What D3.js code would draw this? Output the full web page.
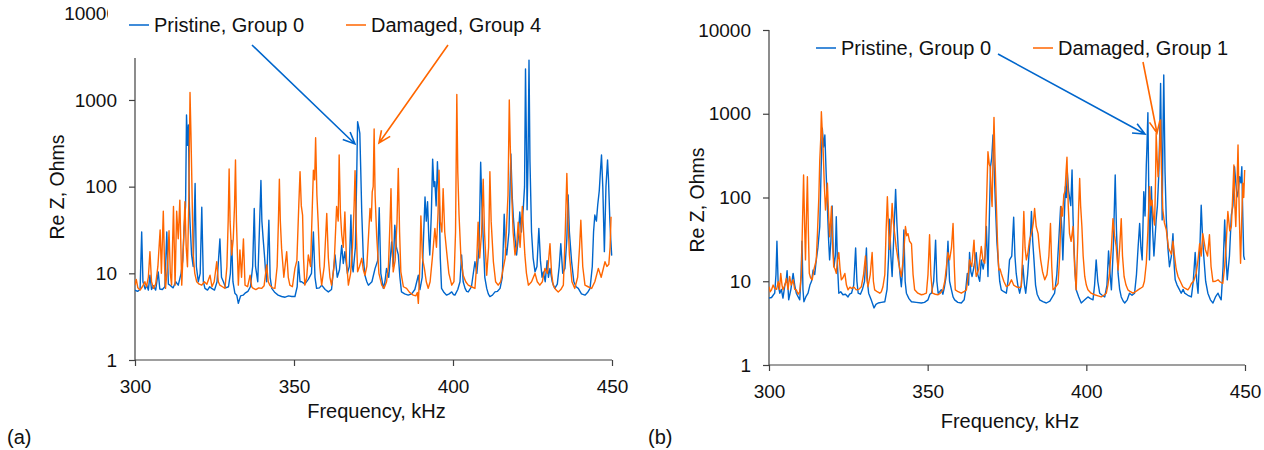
<!DOCTYPE html>
<html>
<head>
<meta charset="utf-8">
<script src="https://cdn.jsdelivr.net/npm/d3@7"></script>
<style>
  html, body { margin: 0; padding: 0; background: #fff; }
  svg { display: block; font-family: Arial, "Liberation Sans", sans-serif; }
</style>
</head>
<body>
<svg id="chart" width="1264" height="450"></svg>
<script>
// ---------- data (frequency kHz, Re Z Ohms) ----------
const xTicks = [300, 350, 400, 450];
const yTicks = [1, 10, 100, 1000, 10000];

const pristineA = [[300.0,6.4],[300.8,6.2],[301.6,6.5],[302.1,30],[302.5,8],[303.2,6.6],[303.7,7.3],[304.2,6.4],[304.7,9.5],[305.2,6.5],[305.8,7.2],[306.5,6.4],[307.3,10.4],[307.8,6.6],[308.6,6.5],[309.4,7],[310.0,30],[310.5,7.5],[311.0,7.3],[312.0,6.8],[312.8,8],[313.6,7.3],[314.5,10],[315.0,14],[315.5,36],[315.9,60],[316.2,670],[316.5,300],[316.8,514],[317.1,60],[317.3,39],[317.8,16.3],[318.3,12],[318.9,109],[319.3,12],[319.9,8.0],[320.5,10],[321.0,58],[321.5,8],[322.0,6.7],[322.8,6.4],[323.5,7],[324.1,6.7],[325.0,6.4],[325.8,8],[326.7,25],[327.2,9],[327.8,8.0],[328.5,6.8],[329.4,7],[330.0,10],[330.4,24],[330.8,8],[331.4,5.9],[332.0,5.6],[332.5,4.5],[333.2,5.5],[334.0,5.6],[334.6,5.9],[335.5,6.2],[336.3,7],[337.0,12],[337.5,56],[337.9,12],[338.6,8.0],[339.1,30],[339.6,118],[339.9,40],[340.3,25],[340.7,16.3],[341.1,10],[341.4,8.0],[342.1,41],[342.5,9],[343.0,6.7],[344.0,6.0],[345.0,5.6],[346.1,5.4],[347.2,5.3],[348.3,5.5],[349.3,5.4],[350.3,5.4],[351.0,7],[351.4,13.6],[351.9,8],[352.4,8.0],[353.4,7.5],[354.5,8.5],[355.5,10],[356.1,30],[356.6,9],[357.1,6.7],[358.0,6.8],[358.7,7.3],[359.8,6.5],[360.8,6.1],[361.8,6.5],[362.9,16.3],[363.6,9],[364.3,11],[365.0,21],[365.5,13],[366.0,17.8],[366.8,10],[367.4,12],[367.9,47],[368.3,12],[368.6,10.4],[369.3,20],[369.7,120],[370.0,561],[370.4,480],[370.7,411],[371.0,150],[371.3,51],[371.8,15],[372.3,9.5],[372.9,8],[373.4,7.3],[374.5,8],[375.5,11.4],[376.3,14],[376.8,57],[377.3,10],[378.1,6.7],[378.6,8],[379.1,11.4],[379.8,9],[380.7,23],[381.2,12],[381.7,36],[382.2,20],[382.8,16.3],[383.3,9],[383.8,6.1],[384.8,5.8],[385.9,5.6],[387.0,5.8],[388.0,6.5],[389.1,9.5],[389.6,6.5],[390.3,9],[390.8,30],[391.2,76],[391.6,40],[392.0,67],[392.4,25],[392.7,16.3],[393.2,50],[393.6,208],[394.0,100],[394.3,114],[394.7,60],[395.1,194],[395.4,100],[395.7,61],[396.0,15],[396.4,6.7],[397.2,6.0],[398.0,5.6],[398.8,5.8],[399.6,6.1],[400.1,5.7],[400.6,5.6],[401.5,6.5],[402.2,8],[402.7,16.3],[403.2,8],[403.8,6.7],[404.3,6.2],[404.8,6.1],[405.8,7],[406.9,13.6],[407.5,10],[408.2,20],[408.7,191],[409.1,60],[409.5,25],[410.0,9],[410.6,6.7],[411.1,5.8],[411.6,5.4],[412.4,5.6],[413.2,6.1],[414.0,6.2],[414.8,6.7],[415.5,9],[416.1,48],[416.5,20],[416.9,16.3],[417.6,30],[418.2,238],[418.6,80],[419.0,43],[419.5,25],[420.0,16.3],[420.5,25],[421.0,51],[421.5,30],[422.1,56],[422.5,100],[422.8,2274],[423.1,300],[423.3,54],[423.6,200],[423.9,2882],[424.2,200],[424.7,30],[425.2,15],[425.8,10.4],[426.4,12],[427.0,33],[427.5,14],[428.0,9],[428.4,10.4],[429.0,8],[429.6,14],[430.0,9],[430.5,11.4],[431.2,8],[432.0,6.7],[432.8,7.5],[433.4,12],[433.9,22],[434.5,10],[435.2,11.4],[435.8,25],[436.2,80],[436.6,30],[437.3,13.6],[438.0,8],[438.7,7],[439.4,6.7],[440.4,5.8],[441.5,5.6],[442.3,6],[443.1,6.7],[443.8,12],[444.2,30],[444.6,47],[445.1,40],[445.5,61],[446.0,90],[446.4,160],[446.7,232],[447.1,100],[447.6,17.8],[448.1,100],[448.6,203],[448.9,120],[449.3,43],[449.6,25],[449.9,16]];

const damagedA = [[300.0,7.3],[300.4,8.5],[300.9,6.8],[301.6,6.4],[302.3,7],[303.1,8.0],[303.6,7],[304.2,9],[304.7,17.8],[305.2,8],[305.8,6.7],[306.5,7.5],[307.2,12],[307.9,31.6],[308.3,10],[308.9,52],[309.3,12],[309.6,6.7],[310.2,12],[310.7,31],[311.1,10],[311.5,7.3],[312.1,59],[312.6,7.3],[313.1,52],[313.6,25],[314.1,70],[314.7,7.3],[315.2,20],[315.7,67],[316.1,20],[316.5,11.9],[316.9,60],[317.3,1222],[317.6,400],[317.8,165],[318.1,40],[318.3,16.3],[318.8,10],[319.4,8.0],[320.2,7.5],[321.0,7.3],[321.8,8],[322.6,7.5],[323.6,9.5],[324.2,7],[324.9,8],[325.7,13.6],[326.2,8],[326.7,7.3],[327.5,7],[328.3,6.7],[328.9,12],[329.3,40],[329.6,160],[329.9,40],[330.4,16.3],[330.9,25],[331.3,60],[331.6,203],[331.9,40],[332.5,7.3],[333.0,18.6],[333.5,9],[334.1,25],[334.6,7.3],[335.4,7],[336.2,9.5],[336.7,7],[337.2,6.7],[338.0,6.5],[338.9,6.8],[339.8,6.7],[340.6,7.2],[341.4,12.5],[341.9,8],[342.4,7.3],[343.2,6.8],[344.0,6.7],[344.7,12],[345.1,40],[345.4,122],[345.7,40],[346.1,19.4],[346.8,9],[347.7,17.8],[348.2,9],[348.7,7.3],[349.5,7],[350.3,11.4],[350.9,14],[351.5,60],[351.9,149],[352.3,60],[352.7,47],[353.0,15],[353.4,7.3],[354.0,9],[354.5,16.3],[355.2,12],[355.7,50],[356.1,155],[356.5,120],[356.8,367],[357.2,80],[357.6,39],[358.1,12],[358.7,7.3],[359.5,12],[360.3,49],[360.8,15],[361.3,9],[361.8,7.3],[362.6,12],[363.4,59],[363.9,40],[364.2,232],[364.6,50],[365.0,28],[365.5,20],[366.0,51],[366.5,14],[367.1,7.3],[367.8,10],[368.4,20],[368.9,60],[369.2,153],[369.6,30],[370.0,10.4],[370.6,12],[371.3,14.9],[371.8,11],[372.3,9.5],[372.9,12],[373.5,30],[373.9,56],[374.3,40],[374.6,87],[374.9,100],[375.2,462],[375.5,80],[376.0,27],[376.7,10],[377.6,7.3],[378.3,6.7],[379.1,8.0],[379.7,12],[380.2,40],[380.5,95],[380.8,25],[381.2,10.4],[381.8,14],[382.4,40],[382.8,162],[383.2,30],[383.6,10.4],[384.4,7],[385.4,6.7],[386.4,6.0],[387.5,5.6],[388.3,5.5],[388.8,6],[389.1,4.5],[389.5,10],[389.9,46],[390.4,15],[391.0,11.4],[391.6,8],[392.2,6.7],[392.8,8],[393.5,15],[394.3,33],[394.8,20],[395.3,50],[395.6,155],[396.0,40],[396.5,30],[396.9,95],[397.4,30],[398.0,17.8],[398.7,10],[399.6,7.3],[400.3,8],[400.8,30],[401.2,1159],[401.5,150],[401.9,47],[402.5,15],[403.2,9.5],[404.0,8],[404.8,7.3],[405.8,7],[406.9,6.7],[407.4,12],[407.9,39],[408.4,15],[409.0,30],[409.5,122],[409.9,30],[410.6,9.5],[411.2,20],[411.6,149],[412.0,40],[412.7,13.6],[413.4,8],[414.2,7.3],[415.0,8],[415.8,11.4],[416.4,15],[416.9,39],[417.3,80],[417.7,998],[418.0,300],[418.4,95],[418.9,30],[419.5,16.3],[420.0,20],[420.5,39],[421.1,20],[421.8,59],[422.2,30],[422.6,16.3],[423.1,10],[423.7,7.3],[424.7,8],[425.8,10],[426.5,8],[427.3,7.3],[428.1,8],[428.9,11.4],[429.7,10],[430.5,22],[431.0,10],[431.5,7.3],[432.3,6.5],[433.1,6.1],[433.9,6.5],[434.7,7.3],[435.3,30],[435.8,142],[436.2,40],[436.6,16.3],[437.4,8],[438.3,6.7],[439.2,9],[439.8,20],[440.2,41],[440.8,12],[441.5,7.3],[442.5,7],[443.6,6.7],[444.6,8],[445.7,11.4],[446.6,9],[447.8,13.6],[448.4,12],[449.0,12.7],[449.4,20],[449.7,45]];

const pristineB = [[300.0,6.3],[300.8,6.4],[301.3,6.8],[301.8,7.2],[302.2,12],[302.5,30],[302.9,9],[303.4,7.2],[303.9,8],[304.4,6.3],[305.0,9],[305.4,10],[305.7,13.4],[306.2,6.0],[306.9,8],[307.6,12.4],[308.1,9],[308.6,7.2],[309.2,6.5],[309.7,6.0],[310.1,12],[310.4,30],[310.7,8],[311.0,5.7],[311.6,6.5],[312.3,7.2],[312.9,9],[313.4,10],[313.9,13.6],[314.4,12],[314.9,18],[315.4,25],[316.0,45],[316.4,200],[316.8,670],[317.2,400],[317.6,558],[318.0,200],[318.4,78],[318.8,30],[319.1,18],[319.5,30],[319.9,79],[320.2,25],[320.5,14.9],[320.9,20],[321.2,59],[321.6,15],[322.0,7.2],[322.6,7.5],[323.3,6.9],[324.1,7],[324.9,6.5],[325.4,7],[326.0,7.2],[326.7,9],[327.3,25],[327.7,10],[328.1,7.2],[328.8,7],[329.4,7.9],[330.1,10],[330.7,25],[331.0,10],[331.4,7.2],[332.2,6],[333.1,4.8],[333.7,5.3],[334.4,5.5],[335.4,5.6],[336.5,5.7],[337.2,8],[337.7,20],[338.0,55],[338.4,20],[338.8,11.4],[339.4,40],[339.9,125],[340.3,50],[340.9,18],[341.3,12],[341.7,8.6],[342.2,15],[342.5,41],[342.9,10],[343.3,7.2],[344.1,6.2],[344.9,5.7],[346.4,5.6],[348.0,5.5],[349.0,5.6],[350.1,6.0],[350.7,7],[351.2,7.2],[351.9,10],[352.5,31],[352.9,10],[353.3,7.2],[353.8,7.5],[354.3,7.9],[354.8,7],[355.3,8.6],[355.9,12],[356.4,30],[356.9,10],[357.5,7.9],[358.0,6.5],[358.5,6.0],[359.5,5.6],[360.6,5.5],[361.5,6],[362.0,8],[362.5,12.4],[362.9,9],[363.2,22],[363.6,13],[364.0,11.4],[364.6,15],[365.3,22],[365.8,12],[366.4,10],[366.9,18],[367.5,14],[368.1,20],[368.5,45],[369.0,11.4],[369.4,50],[369.8,233],[370.2,300],[370.6,558],[371.0,200],[371.3,93],[371.8,30],[372.2,18],[372.7,10],[373.2,7.9],[374.0,7.5],[374.8,7.2],[375.3,10],[375.8,18],[376.5,20],[377.1,58],[377.5,20],[377.9,12.4],[378.4,9],[379.0,7.2],[379.5,9],[380.0,15.6],[380.5,9],[380.9,7.2],[381.5,12],[382.1,26],[382.4,35],[382.7,68],[383.1,30],[383.5,18],[384.0,9],[384.5,7],[385.3,6.0],[386.3,5.7],[387.4,5.5],[388.5,5.8],[389.3,6.5],[390.0,7.2],[390.7,12],[391.3,30],[391.9,78],[392.3,40],[392.6,18],[393.0,50],[393.4,135],[393.7,100],[394.0,204],[394.4,120],[394.7,102],[395.1,80],[395.5,213],[395.8,60],[396.1,26],[396.5,12],[396.8,7.9],[397.6,6.5],[398.4,5.5],[399.5,6],[400.5,6.5],[401.3,6.2],[402.1,6.0],[402.6,9],[403.1,18],[403.6,10],[404.2,7.2],[405.0,6.8],[405.8,6.5],[406.5,9],[407.0,23],[407.5,12],[407.9,7.9],[408.5,25],[409.1,186],[409.5,40],[410.0,12.4],[410.5,8],[411.0,6.5],[411.6,5.8],[412.1,5.5],[412.9,6],[413.6,7.2],[414.4,6.8],[415.2,7.2],[415.8,12],[416.3,25],[416.8,49],[417.2,25],[417.6,18],[418.1,117],[418.5,60],[418.9,245],[419.1,400],[419.4,1031],[419.7,100],[419.9,18],[420.2,50],[420.5,135],[420.9,40],[421.3,20],[421.7,35],[422.0,54],[422.4,80],[422.8,177],[423.1,500],[423.4,2307],[423.7,300],[423.9,54],[424.2,800],[424.4,2904],[424.8,200],[425.2,54],[425.7,25],[426.2,14.9],[426.8,20],[427.3,37],[427.7,15],[428.0,10.4],[428.6,9],[429.3,8],[429.9,7.2],[430.5,8],[431.0,7.2],[432.0,6.8],[433.1,6.5],[433.7,10],[434.3,22],[434.8,10],[435.2,7.2],[435.7,20],[436.2,81],[436.6,35],[437.0,20],[437.6,10],[438.3,7.2],[439.1,6],[439.9,5.5],[440.7,6.5],[441.5,7.2],[442.0,6.5],[442.5,6.0],[443.1,15],[443.6,54],[444.0,20],[444.4,10.4],[445.1,20],[445.7,62],[446.2,80],[446.7,233],[447.1,150],[447.5,102],[447.9,120],[448.3,177],[448.7,150],[449.0,233],[449.3,60],[449.6,20],[449.9,18]];

const damagedB = [[300.0,8.6],[300.4,7.5],[300.8,7.9],[301.3,9],[301.8,8.2],[302.4,8],[302.9,9.9],[303.3,8],[303.7,12.4],[304.1,9],[304.4,7.9],[305.0,9],[305.5,10.8],[306.0,8],[306.5,11.4],[307.0,9],[307.6,10.4],[308.1,8],[308.6,7.9],[309.2,7],[309.7,7.5],[310.2,12],[310.6,60],[310.9,186],[311.2,50],[311.5,18],[311.8,60],[312.1,177],[312.4,40],[312.7,12.4],[313.1,11],[313.6,10.4],[314.2,14],[314.9,18],[315.3,40],[315.7,100],[316.0,281],[316.3,500],[316.5,1059],[316.8,600],[317.1,337],[317.4,150],[317.8,71],[318.1,100],[318.4,148],[318.8,60],[319.1,34],[319.4,50],[319.7,78],[320.0,30],[320.4,14.9],[320.8,14],[321.2,12.4],[321.6,18],[322.0,22],[322.4,14],[322.8,10.4],[323.3,11],[323.9,12.4],[324.4,9],[324.9,7.9],[325.5,8.5],[326.0,8.2],[326.8,8.5],[327.5,7.9],[328.3,8],[329.1,8.6],[329.8,12],[330.4,20],[330.8,11],[331.2,8.6],[331.9,12],[332.5,22],[332.9,10],[333.3,7.9],[334.1,7.5],[334.9,7.2],[335.4,7.5],[335.9,8.6],[336.5,12],[336.9,40],[337.3,102],[337.7,40],[338.0,24],[338.4,40],[338.8,85],[339.2,50],[339.6,37],[340.1,25],[340.7,18],[341.2,14],[341.7,11.4],[342.4,20],[343.0,45],[343.4,35],[343.8,37],[344.3,30],[344.9,28],[345.4,12],[345.9,7.9],[346.9,7.2],[348.0,6.9],[348.8,7],[349.6,7.2],[350.1,12],[350.6,36],[351.0,12],[351.5,7.2],[352.4,7],[353.3,6.9],[354.0,7.2],[354.8,7.9],[355.4,10],[355.9,14.9],[356.4,22],[356.9,18],[357.5,25],[358.0,49],[358.4,15],[358.7,7.9],[359.6,7.5],[360.6,7.2],[361.4,7.5],[362.2,7.9],[362.7,11],[363.2,18],[363.9,15],[364.6,31],[365.0,15],[365.3,11.4],[366.1,14],[366.9,26],[367.4,18],[368.0,16.4],[368.6,100],[369.0,352],[369.4,250],[369.7,233],[370.0,120],[370.3,78],[370.6,300],[370.9,906],[371.2,300],[371.6,93],[372.0,30],[372.4,13.6],[372.8,14],[373.2,12.4],[374.0,10],[374.8,8.6],[375.6,9],[376.4,10.4],[377.1,9],[377.9,8.6],[378.7,8.4],[379.5,8.6],[379.9,20],[380.3,68],[380.7,25],[381.1,18],[381.6,22],[382.1,31],[382.9,40],[383.3,50],[383.7,74],[384.2,45],[384.8,37],[385.2,25],[385.6,18],[386.2,13],[386.9,10.4],[387.6,12],[388.2,20],[388.7,49],[389.1,15],[389.5,7.9],[390.3,8.5],[391.1,9.4],[391.6,20],[392.1,78],[392.5,60],[392.9,107],[393.3,120],[393.6,200],[393.9,302],[394.3,80],[394.7,37],[395.2,30],[395.8,45],[396.3,15],[396.8,7.9],[397.3,30],[397.6,80],[397.9,169],[398.2,80],[398.6,45],[399.0,20],[399.5,11.4],[400.0,9],[400.5,7.9],[401.5,7.2],[402.6,6.9],[403.7,6.7],[404.7,6.5],[405.5,6.8],[406.3,7.2],[406.8,9],[407.3,12.4],[407.9,25],[408.4,56],[408.9,35],[409.4,26],[410.0,13.6],[410.5,25],[411.0,56],[411.4,20],[411.9,11.4],[412.5,9],[413.1,7.9],[413.9,7.5],[414.7,7.2],[415.5,7.5],[416.3,7.9],[417.0,8.2],[417.8,8.6],[418.3,10],[418.9,16.4],[419.4,40],[419.9,135],[420.3,80],[420.7,93],[421.1,60],[421.5,47],[421.8,150],[422.0,584],[422.3,300],[422.6,177],[423.0,300],[423.4,843],[423.7,200],[424.1,71],[424.6,50],[425.2,41],[425.9,25],[426.8,21],[427.3,30],[427.8,20],[428.3,14],[428.9,11.4],[429.6,10],[430.4,8.6],[431.2,8.2],[432.0,7.9],[432.6,8.5],[433.1,9.4],[433.8,10],[434.6,12.4],[435.2,18],[435.7,28],[436.2,20],[436.7,37],[437.1,30],[437.5,24],[438.2,20],[438.8,36],[439.3,15],[439.9,9.9],[440.7,10],[441.5,10.4],[442.2,9.8],[443.0,9.4],[443.6,15],[444.1,30],[444.6,68],[445.2,40],[445.7,45],[446.1,100],[446.5,245],[446.8,80],[447.1,45],[447.5,150],[447.8,424],[448.2,60],[448.6,16.4],[449.0,60],[449.3,148],[449.6,100],[449.9,213]];

const seriesNamesA = ["Pristine, Group 0", "Damaged, Group 4"];
const seriesNamesB = ["Pristine, Group 0", "Damaged, Group 1"];
const colors = ["#0066CC", "#FF6600"];

// ---------- drawing ----------
const svg = d3.select("#chart");
const FONT = 19;

function panel(opts) {
  const g = svg.append("g");
  const x = d3.scaleLinear().domain([300, 450]).range([opts.x0, opts.x1]);
  const y = d3.scaleLog().domain([1, 10000]).range([opts.y0, opts.y1]);

  const clipId = "clip" + opts.id;
  svg.append("clipPath").attr("id", clipId).append("rect")
    .attr("x", opts.x0).attr("y", opts.y1 - 5)
    .attr("width", opts.x1 - opts.x0 + 2).attr("height", opts.y0 - opts.y1 + 5);

  const xAxis = d3.axisBottom(x).tickValues(xTicks).tickSize(6).tickPadding(14).tickFormat(d3.format("d"));
  const yAxis = d3.axisLeft(y).tickValues(yTicks).tickSize(6).tickPadding(12).tickFormat(d3.format("d"));
  const gx = g.append("g").attr("transform", `translate(0,${opts.y0})`).call(xAxis);
  const gy = g.append("g").attr("transform", `translate(${opts.x0},0)`).call(yAxis);
  [gx, gy].forEach(a => {
    a.select(".domain").attr("stroke", "#404040").attr("stroke-width", 1.2);
    a.selectAll(".tick line").attr("stroke", "#404040").attr("stroke-width", 1.2);
    a.selectAll(".tick text").attr("fill", "#111").style("font-size", FONT + "px")
      .style("font-family", "Arial, 'Liberation Sans', sans-serif");
  });
  gx.select(".domain").attr("d", `M${opts.x0},0H${opts.x1}`);
  gy.select(".domain").attr("d", `M0,${opts.y0}V${opts.y1}`);

  const line = d3.line().x(d => x(d[0])).y(d => y(d[1]));
  const dg = g.append("g").attr("clip-path", `url(#${clipId})`);
  opts.data.forEach((s, i) => {
    dg.append("path").datum(s).attr("d", line)
      .attr("fill", "none").attr("stroke", colors[i]).attr("stroke-width", 1.4)
      .attr("stroke-linejoin", "round");
  });

  g.append("text").attr("x", (opts.x0 + opts.x1) / 2 + 3).attr("y", opts.xTitleY)
    .attr("text-anchor", "middle").style("font-size", "20px").attr("fill", "#111")
    .text("Frequency, kHz");
  g.append("text").attr("transform", `translate(${opts.yTitleX},${opts.yTitleY}) rotate(-90)`)
    .attr("text-anchor", "middle").style("font-size", "19.5px").attr("fill", "#111")
    .text("Re Z, Ohms");
  g.append("text").attr("x", opts.tagX).attr("y", 444).style("font-size", "20px").attr("fill", "#111")
    .text(opts.tag);

  if (opts.legendBox) {
    g.append("rect").attr("x", opts.legendBox[0]).attr("y", opts.legendBox[1])
      .attr("width", opts.legendBox[2]).attr("height", opts.legendBox[3]).attr("fill", "#fff");
  }
  opts.names.forEach((n, i) => {
    const lx = opts.legend[i];
    g.append("line").attr("x1", lx).attr("x2", lx + 20).attr("y1", opts.legendY).attr("y2", opts.legendY)
      .attr("stroke", colors[i]).attr("stroke-width", 1.5);
    g.append("text").attr("x", lx + 25).attr("y", opts.legendY + 7).style("font-size", "20px")
      .attr("fill", "#111").text(n);
  });

  opts.arrows.forEach((a, i) => {
    const [sx, sy, ex, ey] = a;
    const ang = Math.atan2(ey - sy, ex - sx);
    const L = 13, w = 0.42;
    g.append("path")
      .attr("d", `M${sx},${sy}L${ex},${ey}M${ex - L * Math.cos(ang - w)},${ey - L * Math.sin(ang - w)}L${ex},${ey}L${ex - L * Math.cos(ang + w)},${ey - L * Math.sin(ang + w)}`)
      .attr("fill", "none").attr("stroke", colors[i]).attr("stroke-width", 1.6);
  });
}

panel({
  id: "a", x0: 135, x1: 612, y0: 360, y1: 13.3, data: [pristineA, damagedA],
  xTitleY: 418, yTitleX: 64, yTitleY: 187, tag: "(a)", tagX: 7,
  legendBox: [108, 0, 460, 58], legend: [129, 346], legendY: 25, names: seriesNamesA,
  arrows: [[252, 45, 355, 144], [448, 45, 379, 143]]
});
panel({
  id: "b", x0: 769, x1: 1245, y0: 365, y1: 30, data: [pristineB, damagedB],
  xTitleY: 428, yTitleX: 704, yTitleY: 200, tag: "(b)", tagX: 648,
  legendBox: null, legend: [816, 1033], legendY: 48, names: seriesNamesB,
  arrows: [[998, 54, 1145, 134], [1143, 62, 1157, 133]]
});
</script>
</body>
</html>
